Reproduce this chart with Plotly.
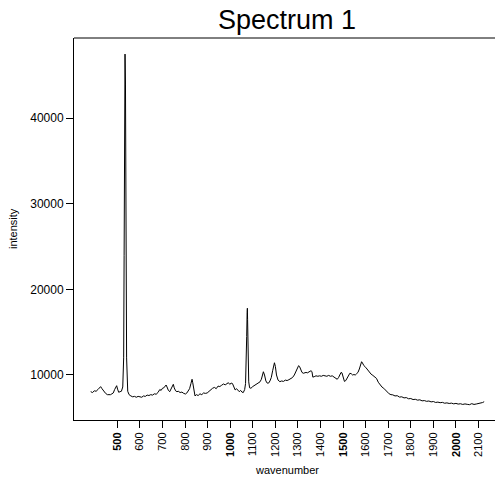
import plotly.graph_objects as go

# Raman spectrum: wavenumber (cm^-1) and measured intensity
wavenumber = [
    382, 390, 398, 406, 414, 420, 426, 432, 440, 448,
    456, 464, 470, 476, 482, 488, 493, 497, 501, 506,
    512, 518, 524, 528, 530, 532, 534, 536, 538, 541,
    546, 552, 560, 568, 576, 584, 592, 600, 608, 616,
    624, 632, 640, 648, 656, 664, 672, 680, 688, 694,
    700, 706, 712, 716, 720, 726, 732, 738, 744, 748,
    752, 758, 764, 770, 778, 786, 794, 802, 808, 814,
    820, 826, 829, 831, 834, 838, 844, 850, 858, 866,
    874, 882, 890, 898, 906, 914, 922, 930, 938, 946,
    954, 962, 970, 978, 986, 992, 998, 1004, 1010, 1016,
    1022, 1028, 1034, 1040, 1046, 1052, 1058, 1064, 1068, 1071,
    1073, 1075, 1076, 1077, 1079, 1082, 1086, 1092, 1100, 1108,
    1116, 1124, 1132, 1138, 1143, 1147, 1152, 1158, 1164, 1170,
    1176, 1182, 1188, 1192, 1196, 1200, 1205, 1212, 1220, 1228,
    1236, 1244, 1252, 1260, 1268, 1276, 1284, 1292, 1298, 1303,
    1307, 1312, 1318, 1324, 1330, 1336, 1342, 1348, 1354, 1358,
    1362, 1366, 1372, 1380, 1388, 1396, 1404, 1412, 1420, 1428,
    1436, 1444, 1452, 1460, 1468, 1474, 1480, 1486, 1491, 1495,
    1500, 1506, 1512, 1518, 1524, 1530, 1536, 1542, 1548, 1554,
    1560, 1566, 1572, 1577, 1582, 1586, 1592, 1600, 1608, 1616,
    1624, 1632, 1640, 1648, 1656, 1664, 1672, 1680, 1688, 1696,
    1704, 1712, 1720, 1730, 1740, 1750, 1760, 1770, 1780, 1790,
    1800, 1810, 1820, 1830, 1840, 1850, 1860, 1870, 1880, 1890,
    1900, 1910, 1920, 1930, 1940, 1950, 1960, 1970, 1980, 1990,
    2000, 2010, 2020, 2030, 2040, 2050, 2060, 2070, 2080, 2090,
    2100, 2110, 2118, 2125,
]

intensity = [
    8050, 7950, 8150, 8100, 8300, 8550, 8640, 8400, 8050, 7850,
    7700, 7650, 7700, 7800, 7900, 8300, 8700, 8750, 8350, 7980,
    8050, 8100, 8600, 12000, 24000, 40000, 47500, 44000, 28000, 12000,
    8100, 7700, 7550, 7450, 7500, 7400, 7500, 7450, 7400, 7550,
    7500, 7650, 7600, 7700, 7650, 7800, 7750, 7950, 8300, 8200,
    8450, 8500, 8700, 8830, 8600, 8200, 8050, 8400, 8800, 8910,
    8500, 8150, 8050, 8100, 7950, 8000, 7850, 7780, 7900, 8100,
    8400, 9000, 9400, 9500, 9100, 8200, 7550, 7700, 7600, 7800,
    7700, 7900, 7850, 7900, 8100, 8200, 8450, 8550, 8400, 8700,
    8650, 8800, 8950, 8850, 9050, 9100, 8900, 9050, 9000, 8700,
    8250, 8400, 8150, 8050, 8200, 8000, 7950, 8300, 9000, 11000,
    14500, 17300, 17800, 16500, 12000, 9200, 8500, 8450, 8650, 8800,
    8850, 9000, 9200, 9500, 10000, 10380, 10000, 9300, 9050, 9050,
    9300, 9700, 10500, 11200, 11430, 11000, 10000, 9400, 9220, 9300,
    9250, 9400, 9350, 9450, 9600, 9700, 10000, 10500, 10900, 11090,
    11000, 10600, 10300, 10200, 10250, 10300, 10250, 10350, 10450, 10500,
    10400, 9750, 9800, 9900, 9850, 9900, 9850, 9950, 9900, 9850,
    9950, 9850, 9900, 9750, 9550, 9500, 9700, 10000, 10300, 10250,
    9700, 9250, 9350, 9700, 10000, 10200, 10150, 10000, 10050, 10000,
    10150, 10300, 10700, 11200, 11550, 11400, 11100, 10900, 10600, 10350,
    10100, 9950, 9800, 9600, 9150, 8800, 8600, 8450, 8200, 7950,
    7800, 7700, 7680, 7550, 7580, 7420, 7450, 7320, 7360, 7220,
    7250, 7130, 7160, 7060, 7100, 6980, 7010, 6920, 6960, 6860,
    6900, 6790, 6830, 6760, 6800, 6700, 6740, 6670, 6710, 6630,
    6680, 6600, 6640, 6560, 6620, 6570, 6530, 6650, 6560, 6610,
    6640, 6720, 6780, 6880,
]

x_ticks = list(range(500, 2101, 100))
x_ticktext = [f"<b>{v}</b>" if v % 500 == 0 else str(v) for v in x_ticks]
y_ticks = [10000, 20000, 30000, 40000]
y_ticktext = [str(v) for v in y_ticks]

FONT = "Liberation Sans, Arial, Helvetica, sans-serif"

fig = go.Figure(
    go.Scatter(
        x=wavenumber,
        y=intensity,
        mode="lines",
        line=dict(color="black", width=1),
        hoverinfo="x+y",
    )
)

fig.update_layout(
    width=495,
    height=478,
    margin=dict(l=74, r=0, t=38, b=58),
    paper_bgcolor="white",
    plot_bgcolor="white",
    showlegend=False,
    font=dict(family=FONT, color="black", size=11),
    title=dict(
        text="Spectrum 1",
        font=dict(family=FONT, size=27, color="black"),
        x=287 / 495,
        xref="container",
        xanchor="center",
        y=1 - 29 / 478,
        yref="container",
        yanchor="bottom",
        pad=dict(t=0, b=0),
    ),
    xaxis=dict(
        range=[308, 2173],
        tickvals=x_ticks,
        ticktext=x_ticktext,
        tickangle=-90,
        ticks="outside",
        ticklen=7,
        tickcolor="black",
        tickfont=dict(size=11),
        showline=True,
        linecolor="black",
        linewidth=1,
        mirror=False,
        showgrid=False,
        zeroline=False,
    ),
    yaxis=dict(
        range=[4740, 49380],
        tickvals=y_ticks,
        ticktext=y_ticktext,
        ticks="outside",
        ticklen=7,
        tickcolor="black",
        tickfont=dict(size=12),
        showline=True,
        linecolor="black",
        linewidth=1,
        mirror=False,
        showgrid=False,
        zeroline=False,
    ),
    shapes=[
        dict(
            type="line", xref="paper", yref="paper",
            x0=0, x1=1, y0=1, y1=1,
            line=dict(color="black", width=1),
        )
    ],
    annotations=[
        dict(
            text="wavenumber", xref="paper", yref="paper",
            x=0.505, y=0, yshift=-50, xanchor="center", yanchor="middle",
            showarrow=False, font=dict(size=11),
        ),
        dict(
            text="intensity", xref="paper", yref="paper",
            x=0, xshift=-61, y=0.5, textangle=-90,
            xanchor="center", yanchor="middle",
            showarrow=False, font=dict(size=11),
        ),
    ],
)

fig.write_html("out.html")
